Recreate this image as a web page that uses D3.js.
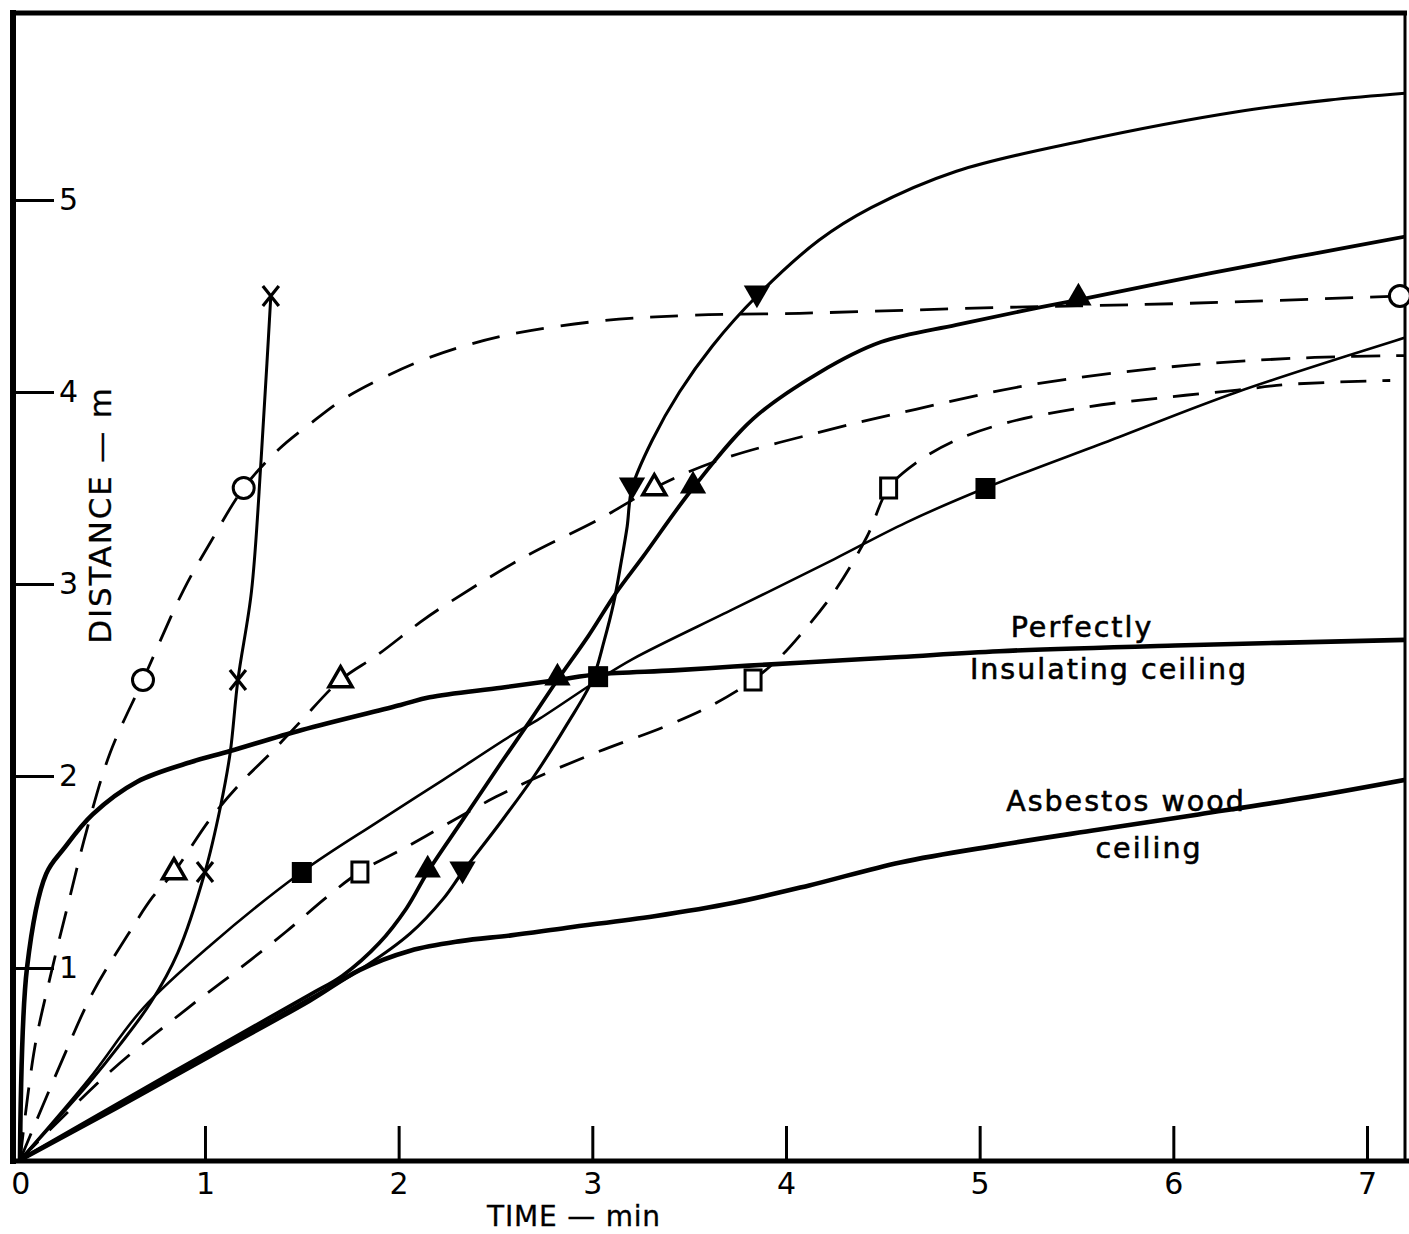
<!DOCTYPE html>
<html><head><meta charset="utf-8">
<script src="https://cdn.jsdelivr.net/npm/d3@7"></script>
<style>body{margin:0;background:#fff} svg{display:block;background:#fff}</style>
</head><body><svg id="c" width="1409" height="1234"></svg>
<script>
// ---- tick values ----
const xTickValues = [0,1,2,3,4,5,6,7];
const yTickValues = [1,2,3,4,5];

// ---- series (time min, distance m) ----
const insulating = [[0.045,0],[0.081,1.0],[0.18,1.49],[0.27,1.62],[0.42,1.80],[0.65,1.97],[0.92,2.07],[1.13,2.13],[1.50,2.24],[2.01,2.37],[2.16,2.41],[2.53,2.46],[2.82,2.50],[3.03,2.53],[3.42,2.55],[3.73,2.57],[4.07,2.59],[4.59,2.62],[5.10,2.65],[6.01,2.68],[7.25,2.71]];
const asbestos = [[0.045,0],[0.54,0.27],[1.04,0.55],[1.54,0.83],[1.80,0.99],[2.06,1.09],[2.32,1.14],[2.58,1.17],[2.87,1.21],[3.32,1.27],[3.73,1.34],[4.12,1.43],[4.59,1.55],[5.10,1.64],[5.61,1.72],[6.13,1.80],[6.70,1.89],[7.25,1.99]];
const circleLine = [[0.045,0],[0.12,0.58],[0.20,0.95],[0.30,1.36],[0.39,1.72],[0.51,2.12],[0.68,2.5],[0.89,2.97],[1.03,3.22],[1.20,3.5],[1.38,3.70],[1.55,3.84],[1.71,3.96],[1.89,4.06],[2.16,4.18],[2.53,4.29],[3.04,4.37],[3.52,4.40],[4.07,4.41],[5.10,4.44],[6.01,4.46],[7.17,4.5]];
const triOpenLine = [[0.045,0],[0.25,0.49],[0.42,0.87],[0.60,1.17],[0.73,1.37],[0.84,1.5],[1.03,1.78],[1.20,1.98],[1.34,2.12],[1.49,2.28],[1.70,2.5],[1.89,2.63],[2.11,2.80],[2.21,2.87],[2.63,3.13],[3.04,3.34],[3.32,3.5],[3.64,3.64],[4.17,3.79],[4.67,3.91],[5.28,4.04],[6.08,4.14],[6.73,4.18],[7.25,4.19]];
const sqOpenLine = [[0.045,0],[0.51,0.46],[0.91,0.79],[1.17,0.99],[1.42,1.19],[1.63,1.37],[1.80,1.5],[2.04,1.63],[2.25,1.75],[2.50,1.89],[2.73,2.0],[3.04,2.13],[3.38,2.26],[3.62,2.37],[3.83,2.5],[3.97,2.62],[4.07,2.73],[4.25,2.96],[4.42,3.25],[4.53,3.5],[4.67,3.63],[4.88,3.75],[5.14,3.84],[5.54,3.92],[5.94,3.97],[6.33,4.01],[6.60,4.04],[7.12,4.06]];
const sqFillLine = [[0.045,0],[0.40,0.42],[0.68,0.79],[1.03,1.12],[1.50,1.5],[1.89,1.76],[2.23,1.98],[2.58,2.21],[2.73,2.30],[3.03,2.5],[3.21,2.61],[3.73,2.87],[4.25,3.13],[4.62,3.32],[5.03,3.5],[5.68,3.75],[6.33,4.0],[7.25,4.30]];
const crossLine = [[0.045,0],[0.40,0.40],[0.56,0.6],[0.72,0.82],[0.86,1.08],[1.0,1.5],[1.08,1.84],[1.13,2.12],[1.17,2.5],[1.24,2.96],[1.29,3.65],[1.32,4.15],[1.34,4.5]];
const triUpLine = [[0.045,0],[0.84,0.46],[1.54,0.86],[1.71,0.96],[1.90,1.13],[2.04,1.31],[2.15,1.5],[2.33,1.77],[2.53,2.07],[2.68,2.29],[2.82,2.5],[2.98,2.73],[3.12,2.95],[3.26,3.14],[3.52,3.5],[3.83,3.86],[4.17,4.10],[4.49,4.26],[4.88,4.35],[5.21,4.42],[5.51,4.48],[6.20,4.62],[6.72,4.72],[7.2,4.81]];
const triDownLine = [[0.045,0],[0.84,0.45],[1.54,0.84],[1.83,1.01],[2.06,1.18],[2.23,1.36],[2.33,1.5],[2.52,1.75],[2.70,2.0],[2.87,2.27],[3.0,2.5],[3.06,2.7],[3.11,2.90],[3.15,3.12],[3.18,3.30],[3.205,3.5],[3.31,3.75],[3.45,4.0],[3.62,4.24],[3.85,4.5],[4.17,4.79],[4.44,4.96],[4.88,5.15],[5.54,5.31],[6.33,5.46],[6.80,5.52],[7.25,5.56]];

// ---- markers ----
const markCross = [[1.0,1.5],[1.17,2.5],[1.34,4.5]];
const markCircle = [[0.68,2.5],[1.20,3.5],[7.17,4.5]];
const markTriOpen = [[0.84,1.5],[1.70,2.5],[3.32,3.5]];
const markSqOpen = [[1.80,1.5],[3.83,2.5],[4.53,3.5]];
const markSqFill = [[1.50,1.5],[3.03,2.52],[5.03,3.5]];
const markTriUp = [[2.15,1.5],[2.82,2.5],[3.52,3.5],[5.51,4.48]];
const markTriDown = [[2.33,1.5],[3.205,3.5],[3.85,4.5]];

const svg = d3.select("#c");
const x = d3.scaleLinear().domain([0,7]).range([11.3,1367]);
const y = d3.scaleLinear().domain([0,5]).range([1160,200]);
const FONT = "'DejaVu Sans', sans-serif";

svg.append("defs").append("clipPath").attr("id","plot")
  .append("rect").attr("x",16).attr("y",14).attr("width",1389).attr("height",1146);

const line = d3.line().x(d=>x(d[0])).y(d=>y(d[1])).curve(d3.curveCatmullRom.alpha(0.5));
const g = svg.append("g").attr("clip-path","url(#plot)");

const series = [
  {d:asbestos, w:4.6},
  {d:insulating, w:4.6},
  {d:triUpLine, w:3.8},
  {d:triDownLine, w:3.1},
  {d:sqFillLine, w:2.6},
  {d:crossLine, w:3},
  {d:circleLine, w:2.8, dash:"28,17"},
  {d:triOpenLine, w:2.8, dash:"29,16"},
  {d:sqOpenLine, w:2.8, dash:"26,16"}
];
g.selectAll("path.s").data(series).join("path")
  .attr("d",s=>line(s.d)).attr("fill","none").attr("stroke","#000")
  .attr("stroke-width",s=>s.w).attr("stroke-dasharray",s=>s.dash||null)
  .attr("stroke-linejoin","round").attr("stroke-linecap","butt");

// frame
const frame = svg.append("g").attr("stroke","#000").attr("fill","none");
frame.append("line").attr("x1",13).attr("x2",13).attr("y1",10).attr("y2",1164).attr("stroke-width",6);
frame.append("line").attr("x1",10).attr("x2",1407).attr("y1",13).attr("y2",13).attr("stroke-width",5);
frame.append("line").attr("x1",1405).attr("x2",1405).attr("y1",13).attr("y2",1162).attr("stroke-width",3);
frame.append("line").attr("x1",10).attr("x2",1409).attr("y1",1161).attr("y2",1161).attr("stroke-width",5);

// axes
const ya = svg.append("g").attr("transform","translate(16,0)")
  .call(d3.axisRight(y).tickValues(yTickValues).tickSize(38).tickPadding(5).tickFormat(d3.format("d")));
const xa = svg.append("g").attr("transform","translate(0,1160)")
  .call(d3.axisBottom(x).tickValues(xTickValues).tickSize(-34).tickPadding(13).tickFormat(d3.format("d")));
[ya,xa].forEach(a=>{
  a.select(".domain").remove();
  a.selectAll(".tick line").attr("stroke","#000").attr("stroke-width",3);
  a.selectAll(".tick text").attr("fill","#000").style("font-family",FONT).style("font-size","30px");
});
xa.selectAll(".tick").filter(d=>d===0).select("text").attr("dx",9);
xa.selectAll(".tick").filter(d=>d===0).select("line").remove();

// markers
const mk = svg.append("g");
const sym = (type,size)=>d3.symbol().type(type).size(size)();
mk.selectAll("circle.cir").data(markCircle).join("circle")
  .attr("cx",d=>x(d[0])).attr("cy",d=>y(d[1])).attr("r",10.5)
  .attr("fill","#fff").attr("stroke","#000").attr("stroke-width",3);
mk.selectAll("path.to").data(markTriOpen).join("path")
  .attr("d",sym(d3.symbolTriangle,230)).attr("transform",d=>`translate(${x(d[0])},${y(d[1])})`)
  .attr("fill","#fff").attr("stroke","#000").attr("stroke-width",3.5);
mk.selectAll("rect.so").data(markSqOpen).join("rect")
  .attr("x",d=>x(d[0])-8).attr("y",d=>y(d[1])-10).attr("width",16).attr("height",20)
  .attr("fill","#fff").attr("stroke","#000").attr("stroke-width",3);
mk.selectAll("rect.sf").data(markSqFill).join("rect")
  .attr("x",d=>x(d[0])-10).attr("y",d=>y(d[1])-10).attr("width",20).attr("height",21)
  .attr("fill","#000");
mk.selectAll("path.tu").data(markTriUp).join("path")
  .attr("d",sym(d3.symbolTriangle,300)).attr("transform",d=>`translate(${x(d[0])},${y(d[1])-2})`)
  .attr("fill","#000");
mk.selectAll("path.td").data(markTriDown).join("path")
  .attr("d",sym(d3.symbolTriangle,300)).attr("transform",d=>`translate(${x(d[0])},${y(d[1])-3}) rotate(180)`)
  .attr("fill","#000");
mk.selectAll("path.cx").data(markCross).join("path")
  .attr("d","M-8,-10L8,10M8,-10L-8,10").attr("transform",d=>`translate(${x(d[0])},${y(d[1])})`)
  .attr("fill","none").attr("stroke","#000").attr("stroke-width",3.2);

// labels
const txt = (s,px,py,opts={})=>svg.append("text").text(s).attr("x",px).attr("y",py)
  .attr("text-anchor","middle").attr("fill","#000")
  .attr("stroke","#000").attr("stroke-width",opts.sw||0.6)
  .style("font-family",FONT).style("font-size",(opts.size||28.5)+"px")
  .style("letter-spacing",(opts.ls==null?2:opts.ls)+"px")
  .attr("transform",opts.rot?`rotate(${opts.rot},${px},${py})`:null);
txt("Perfectly",1082,637);
txt("Insulating ceiling",1109,679);
txt("Asbestos wood",1126,811);
txt("ceiling",1149,858);
txt("TIME — min",574,1226,{size:28,ls:0.8,sw:0.3});
txt("DISTANCE — m",111,515,{size:31,ls:1.8,rot:-90,sw:0.3});
</script>
</body></html>
